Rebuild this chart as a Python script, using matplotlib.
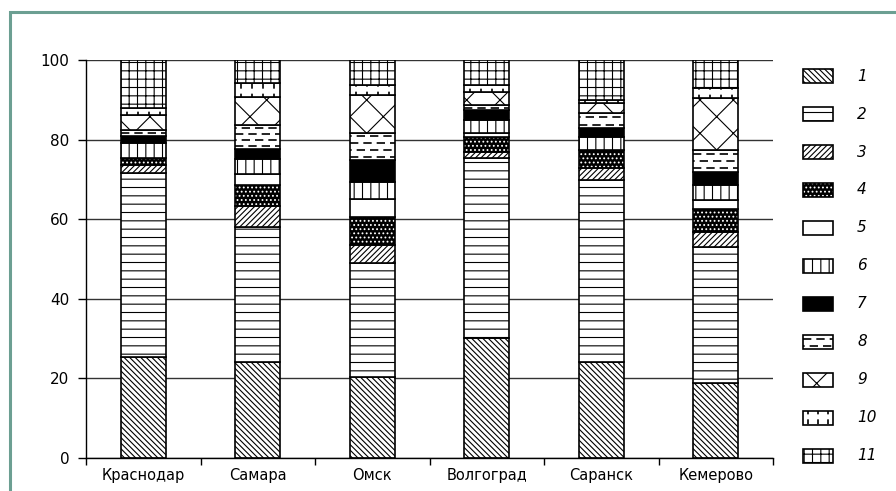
import matplotlib.pyplot as plt
import numpy as np
from matplotlib.patches import Rectangle

cities = ['Краснодар', 'Самара', 'Омск', 'Волгоград', 'Саранск', 'Кемерово']
groups = ['1', '2', '3', '4', '5', '6', '7', '8', '9', '10', '11']

# доли групп 1..11 по городам, %
krasnodar = [25.5, 46.0, 2.1, 1.9, 0.0, 3.7, 1.7, 1.5, 3.8, 1.7, 12.1]
samara = [24.2, 33.9, 5.3, 5.2, 2.8, 3.7, 2.5, 6.1, 7.1, 3.3, 5.9]
omsk = [20.4, 28.5, 4.6, 7.1, 4.6, 4.2, 5.5, 6.8, 9.5, 2.5, 6.3]
volgograd = [30.1, 45.2, 1.7, 3.7, 0.9, 3.3, 2.5, 1.3, 3.3, 1.7, 6.3]
saransk = [24.2, 45.6, 3.0, 4.6, 0.0, 3.3, 2.1, 3.8, 2.5, 0.9, 10.0]
kemerovo = [18.8, 34.3, 3.8, 5.6, 2.3, 3.8, 3.3, 5.5, 13.0, 2.5, 7.1]

yticks = [0, 20, 40, 60, 80, 100]

# оформление групп
hatches = ['\\\\\\\\\\\\', '--', '//////', '....', '', '||', '', '', 'x', '', '++']
faces = ['white', 'white', 'white', 'black', 'white', 'white', 'black',
         'white', 'white', 'white', 'white']
hatch_colors = ['black', 'black', 'black', 'white', 'black', 'black', 'black',
                'black', 'black', 'black', 'black']

plt.rcParams['font.family'] = ['Liberation Sans Narrow', 'DejaVu Sans']
plt.rcParams['hatch.linewidth'] = 0.8

W, H = 896, 491


def px_scale(ax):
    p0 = ax.transData.transform((0, 0))
    p1 = ax.transData.transform((1, 1))
    return abs(p1[0] - p0[0]), abs(p1[1] - p0[1])


def draw_blocks(ax, x, bottoms, heights, width, k):
    bars = ax.bar(x, heights, width, bottoms, color=faces[k],
                  edgecolor=hatch_colors[k], hatch=hatches[k], linewidth=0)
    ax.bar(x, heights, width, bottoms, fill=False, edgecolor='black',
           linewidth=1.2)
    sx, sy = px_scale(ax)
    for p in bars:
        x0, y0 = p.get_x(), p.get_y()
        w, h = p.get_width(), p.get_height()
        if h <= 0:
            continue
        if k == 7:
            # штриховые горизонтальные линии
            step = 6 / sy
            n = max(int(h / step), 1)
            ys = y0 + (np.arange(n) + 0.5) * h / n
            styles = [(0, (5, 3)) if j % 2 == 0 else (4, (5, 3))
                      for j in range(n)]
            lc = ax.hlines(ys, x0, x0 + w, colors='black', linewidth=1.2,
                           linestyles=styles)
            lc.set_clip_path(p)
        if k == 9:
            # короткие вертикальные штрихи
            step = 10 / sx
            n = max(int(w / step), 1)
            xs = x0 + (np.arange(n) + 0.5) * w / n
            lc = ax.vlines(xs, y0, y0 + h, colors='black', linewidth=1.2,
                           linestyles=[(1, (3, 3))])
            lc.set_clip_path(p)


fig = plt.figure(figsize=(W / 100, H / 100), dpi=100)
ax = fig.add_axes([86 / W, 33 / H, 687 / W, 398 / H])
ax.set_xlim(-0.5, len(cities) - 0.5)
ax.set_ylim(0, 100)

values = np.array([krasnodar, samara, omsk, volgograd, saransk, kemerovo]).T
x = np.arange(len(cities))
bottom = np.zeros(len(cities))
for k in range(len(groups)):
    draw_blocks(ax, x, bottom, values[k], 0.39, k)
    bottom += values[k]

ax.set_yticks(yticks)
ax.yaxis.grid(True, color='#333333', linewidth=1)
ax.set_axisbelow(True)
ax.set_xticks(x)
ax.set_xticklabels(cities, fontsize=10.5)
ax.set_xticks(np.arange(-0.5, len(cities)), minor=True)
ax.tick_params(axis='x', which='major', length=0, pad=7)
ax.tick_params(axis='x', which='minor', length=5, width=1, direction='out')
ax.tick_params(axis='y', length=6, width=1, labelsize=11, pad=6)
for s in ['top', 'right']:
    ax.spines[s].set_visible(False)
for s in ['left', 'bottom']:
    ax.spines[s].set_linewidth(1)
    ax.spines[s].set_color('black')

# легенда
lax = fig.add_axes([790 / W, 16 / H, 106 / W, 418 / H])
lax.set_xlim(0, 106)
lax.set_ylim(len(groups) - 0.5, -0.5)
lax.axis('off')
for k in range(len(groups)):
    hk = 14 / 38
    draw_blocks(lax, [28], [k - hk / 2], [hk], 30, k)
    lax.text(67, k, groups[k], fontsize=11, style='italic', va='center',
             ha='left')

fig.add_artist(Rectangle((10 / W, -0.1), 1.5, 0.1 + (H - 12) / H,
                         transform=fig.transFigure, fill=False,
                         edgecolor='#6c9f92', linewidth=2.2))

plt.savefig('out.png', dpi=100)
